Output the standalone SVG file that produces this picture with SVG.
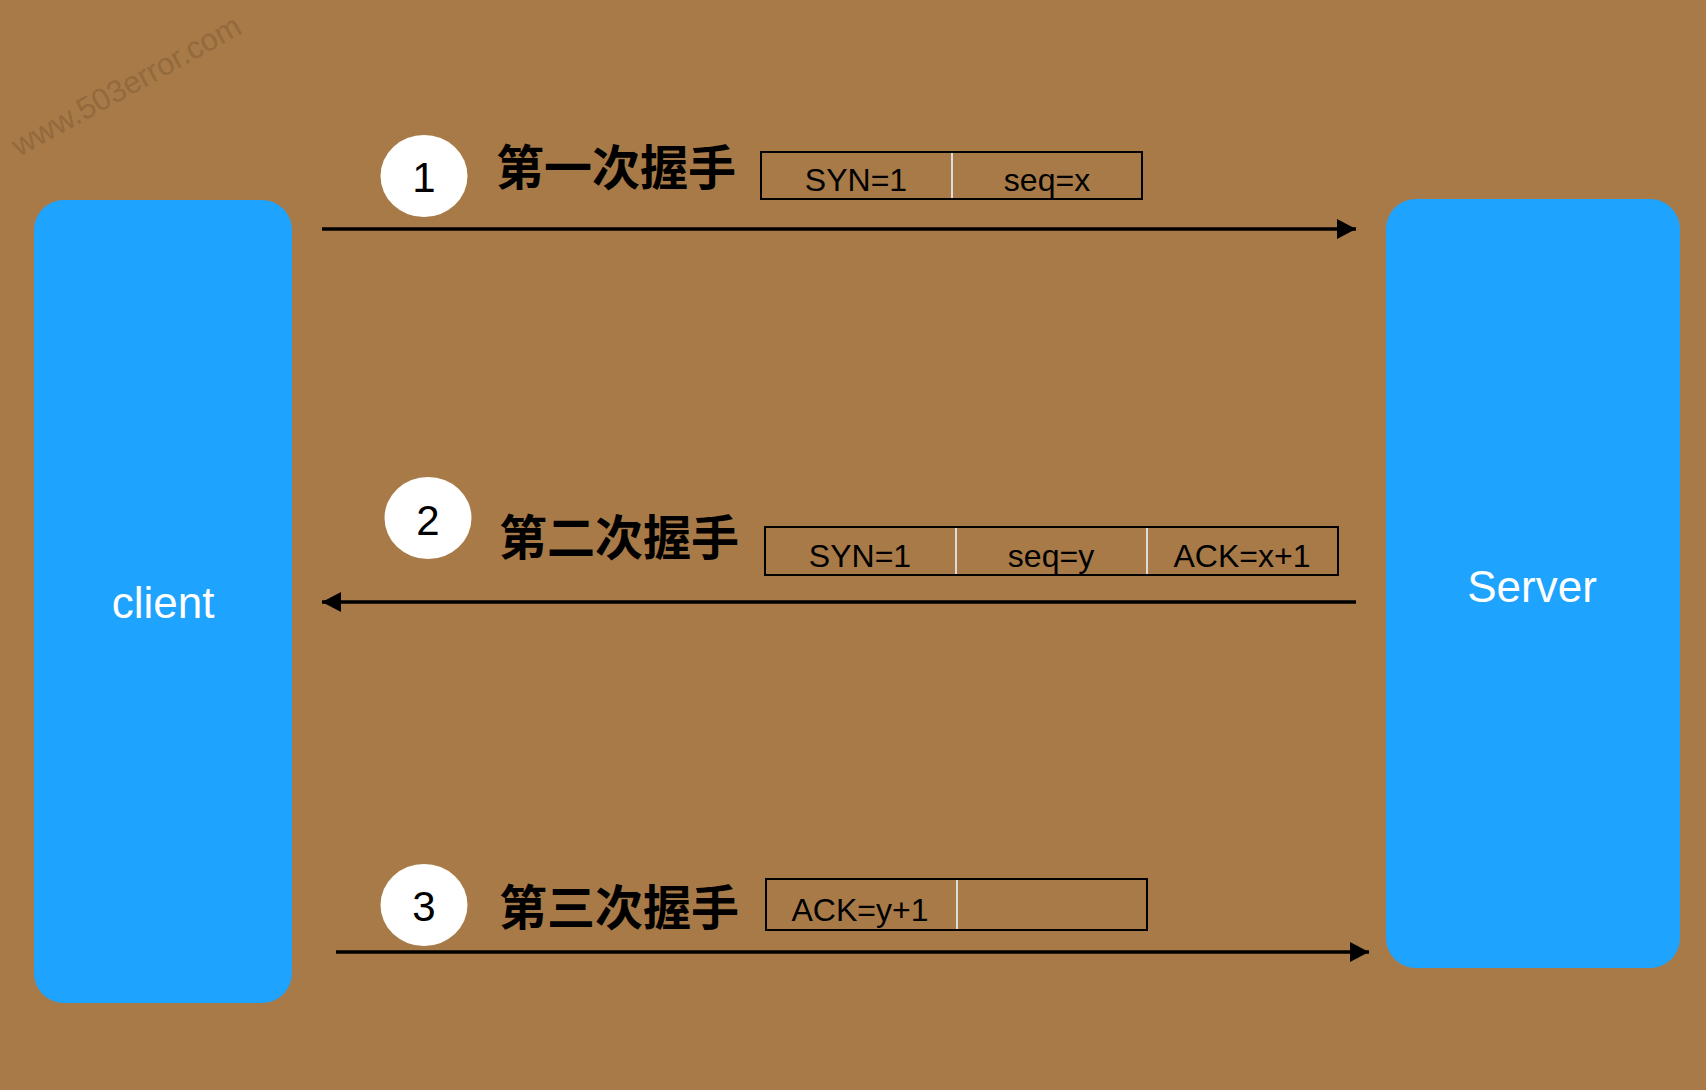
<svg xmlns="http://www.w3.org/2000/svg" width="1706" height="1090" viewBox="0 0 1706 1090">
  <style>
    .node { fill: #1EA3FE; }
    .nodelabel { font-family: "Liberation Sans", Arial, sans-serif; font-size: 44px; fill: #FFFFFF; text-anchor: middle; }
    .badge { fill: #FFFFFF; }
    .num { font-family: "Liberation Sans", Arial, sans-serif; font-size: 42px; fill: #000000; text-anchor: middle; }
    .title { font-family: "Liberation Sans", "Noto Sans CJK SC", sans-serif; font-size: 48px; font-weight: bold; fill: #000000; }
    .box { fill: none; stroke: #000000; stroke-width: 2; }
    .divider { stroke: #DCDCDC; stroke-width: 2; }
    .field { font-family: "Liberation Sans", Arial, sans-serif; font-size: 32px; fill: #000000; text-anchor: middle; }
    .conn { stroke: #000000; stroke-width: 3.5; fill: none; marker-end: url(#arrow); }
    .wm { font-family: "Liberation Sans", Arial, sans-serif; font-size: 31px; fill: #936A3D; }
  </style>
  <defs>
    <marker id="arrow" markerUnits="userSpaceOnUse" markerWidth="20" markerHeight="22" refX="19" refY="10" orient="auto">
      <polygon points="0,0 19,10 0,20" fill="#000000"/>
    </marker>
  </defs>
  <rect x="0" y="0" width="1706" height="1090" fill="#A87A48"/>
  <text class="wm" x="19" y="157" transform="rotate(-29 19 157)">www.503error.com</text>

  <g id="client">
    <rect class="node" x="34" y="200" width="258" height="803" rx="30" ry="30"/>
    <text class="nodelabel" x="163" y="618">client</text>
  </g>
  <g id="server">
    <rect class="node" x="1386" y="199" width="294" height="769" rx="30" ry="30"/>
    <text class="nodelabel" x="1532" y="602">Server</text>
  </g>

  <g id="connectors">
    <line class="conn" x1="322" y1="229" x2="1356" y2="229"/>
    <line class="conn" x1="1356" y1="602" x2="322" y2="602"/>
    <line class="conn" x1="336" y1="952" x2="1369" y2="952"/>
  </g>

  <g id="step1">
    <ellipse class="badge" cx="424" cy="176" rx="43.5" ry="41"/>
    <text class="num" x="424" y="192">1</text>
    <text class="title" x="496" y="185">第一次握手</text>
  </g>
  <g id="packet1">
    <rect class="box" x="761" y="152" width="381" height="47"/>
    <line class="divider" x1="952" y1="153" x2="952" y2="198"/>
    <text class="field" x="856" y="191">SYN=1</text>
    <text class="field" x="1047" y="191">seq=x</text>
  </g>

  <g id="step2">
    <ellipse class="badge" cx="428" cy="518" rx="43.5" ry="41"/>
    <text class="num" x="428" y="535">2</text>
    <text class="title" x="499" y="555">第二次握手</text>
  </g>
  <g id="packet2">
    <rect class="box" x="765" y="527" width="573" height="48"/>
    <line class="divider" x1="956" y1="528" x2="956" y2="574"/>
    <line class="divider" x1="1147" y1="528" x2="1147" y2="574"/>
    <text class="field" x="860" y="567">SYN=1</text>
    <text class="field" x="1051" y="567">seq=y</text>
    <text class="field" x="1242" y="567">ACK=x+1</text>
  </g>

  <g id="step3">
    <ellipse class="badge" cx="424" cy="905" rx="43.5" ry="41"/>
    <text class="num" x="424" y="921">3</text>
    <text class="title" x="499" y="925">第三次握手</text>
  </g>
  <g id="packet3">
    <rect class="box" x="766" y="879" width="381" height="51"/>
    <line class="divider" x1="957" y1="880" x2="957" y2="929"/>
    <text class="field" x="860" y="921">ACK=y+1</text>
  </g>
</svg>
